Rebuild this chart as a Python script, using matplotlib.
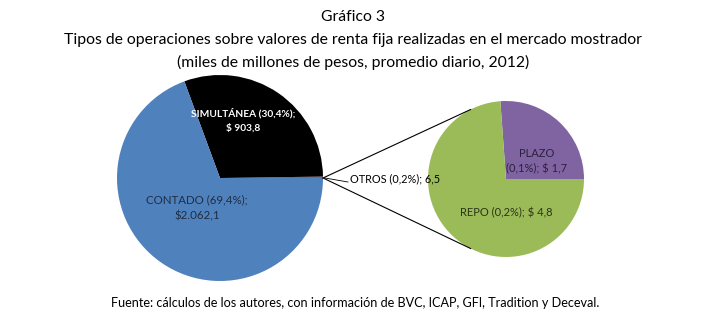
import matplotlib
matplotlib.use("Agg")
import matplotlib.pyplot as plt
import numpy as np

# datos (miles de millones de pesos, promedio diario 2012)
main_labels = ["OTROS (0,2%); 6,5", "SIMULTÁNEA (30,4%);\n$ 903,8", "CONTADO (69,4%);\n$2.062,1"]
main_values = [6.5, 903.8, 2062.1]
main_colors = ["#C0504D", "#000000", "#4F81BD"]

sub_labels = ["PLAZO\n(0,1%); $ 1,7", "REPO (0,2%); $ 4,8"]
sub_values = [1.7, 4.8]
sub_colors = ["#8064A2", "#9BBB59"]

title_lines = ["Gráfico 3",
               "Tipos de operaciones sobre valores de renta fija realizadas en el mercado mostrador",
               "(miles de millones de pesos, promedio diario, 2012)"]
source = "Fuente: cálculos de los autores, con información de BVC, ICAP, GFI, Tradition y Deceval."

plt.rcParams["font.family"] = ["Lato", "DejaVu Sans"]

W, H = 723, 329
fig = plt.figure(figsize=(W / 100, H / 100), dpi=100)
ax = fig.add_axes([0, 0, 1, 1])

# layout in pixel units (y up)
main_c, main_r = (220, H - 178), 103
sub_c, sub_r = (506, H - 179), 78

ax.pie(main_values, colors=main_colors, startangle=0, counterclock=True,
       center=main_c, radius=main_r, frame=True,
       wedgeprops=dict(linewidth=0))
ax.pie(sub_values, colors=sub_colors, startangle=0, counterclock=True,
       center=sub_c, radius=sub_r, frame=True,
       wedgeprops=dict(linewidth=0))

ax.set_xlim(0, W)
ax.set_ylim(0, H)
ax.set_aspect("equal")
ax.axis("off")

# connector lines between the "otros" slice and the second pie
p0 = (main_c[0] + main_r, main_c[1])
for ang in (117, 243):
    a = np.radians(ang)
    p1 = (sub_c[0] + sub_r * np.cos(a), sub_c[1] + sub_r * np.sin(a))
    ax.plot([p0[0], p1[0]], [p0[1], p1[1]], color="black", lw=0.8)

# slice labels
ax.text(243, H - 120, main_labels[1], color="white", fontsize=7.3, fontweight="bold",
        ha="center", va="center", linespacing=1.6)
ax.text(197, H - 208, main_labels[2], color="#1F2D45", fontsize=8.3,
        ha="center", va="center", linespacing=1.5)
ax.plot([p0[0] + 2, 348], [p0[1], p0[1] - 4], color="black", lw=0.6)
ax.text(350, H - 179, main_labels[0], color="black", fontsize=7.8,
        ha="left", va="center")
ax.text(537, H - 161, sub_labels[0], color="#2B2140", fontsize=8,
        ha="center", va="center", linespacing=1.5)
ax.text(506, H - 213, sub_labels[1], color="#2A3517", fontsize=8,
        ha="center", va="center")

# titles
for y, line in zip((17, 40, 62), title_lines):
    ax.text(353, H - y, line, fontsize=11.3, ha="center", va="center", color="black")
ax.text(355, H - 303, source, fontsize=9.1, ha="center", va="center", color="black")

fig.savefig("out.png", dpi=100)
